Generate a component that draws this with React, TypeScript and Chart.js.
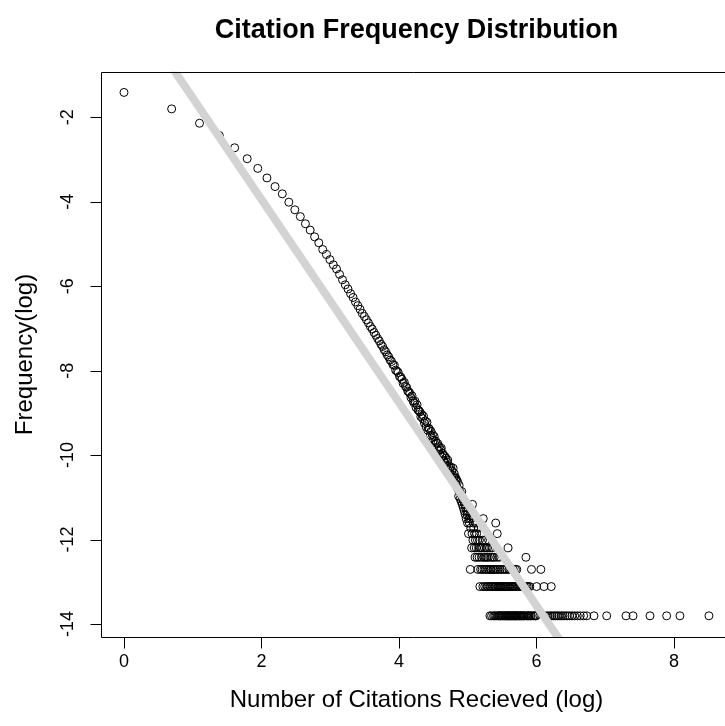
import { useEffect, useRef } from "react";
import { Chart, registerables } from "chart.js";

Chart.register(...registerables);

// Number of papers that received 1, 2, 3, ... 153 citations (index 0 = 1 citation).
const headPapers = [
  241700, 163700, 116500, 87200, 65200, 50300, 40000, 31900, 26000, 21900,
  17960, 15000, 12770, 10770, 9280, 7910, 6870, 5860, 5200, 4610,
  4080, 3700, 3250, 2860, 2540, 2300, 2060, 1880, 1690, 1550,
  1420, 1290, 1200, 1110, 1030, 945, 890, 820, 768, 712,
  672, 620, 590, 545, 519, 483, 461, 428, 413, 383,
  378, 336, 329, 318, 290, 286, 271, 246, 252, 229,
  224, 205, 201, 194, 176, 183, 162, 155, 161, 139,
  148, 131, 129, 125, 112, 118, 107, 113, 96, 101,
  88, 98, 81, 85, 83, 72, 79, 68, 73, 64,
  70, 58, 63, 60, 52, 59, 50, 55, 46, 51,
  53, 43, 47, 45, 39, 44, 37, 42, 35, 38,
  40, 31, 35, 33, 29, 34, 27, 31, 25, 33,
  26, 29, 27, 23, 26, 25, 21, 24, 20, 17,
  22, 19, 16, 18, 15, 19, 14, 16, 13, 15,
  12, 14, 11, 13, 10, 12, 11, 9, 12, 7,
  10, 9, 11,
];

// Sparse tail: citation counts at which exactly n papers were recorded.
const citedByOnePaper = [
  205, 210, 216, 220, 224, 230, 233, 236, 239, 241, 245, 248, 252, 255, 259,
  261, 265, 269, 272, 275, 278, 281, 284, 287, 290, 293, 296, 299, 302, 305,
  309, 314, 317, 321, 324, 328, 333, 336, 341, 349, 355, 358, 363, 370, 374,
  384, 391, 398, 401, 463, 478, 493, 505, 519, 531, 546, 560, 577, 592, 611,
  630, 652, 676, 703, 731, 762, 801, 838, 931, 1120, 1483, 1643, 2103, 2679,
  3250, 4955,
];
const citedByTwoPapers = [
  177, 185, 190, 195, 199, 203, 208, 212, 215, 219, 222, 225, 229, 232, 234,
  238, 240, 243, 247, 251, 254, 258, 264, 268, 273, 277, 282, 286, 291, 295,
  300, 306, 312, 318, 325, 331, 338, 345, 352, 360, 366, 404, 450, 500,
];
const citedByThreePapers = [
  154, 172, 179, 183, 188, 193, 197, 202, 206, 209, 214, 217, 221, 226, 231,
  237, 244, 249, 256, 262, 270, 279, 288, 297, 303, 375, 430,
];
const citedByFourPapers = [165, 170, 175, 181, 187, 191, 196, 200, 207, 213, 218, 227, 235, 346];
const citedByFivePapers = [157, 163, 168, 174, 178, 182, 189, 194, 198, 204, 211, 267];
const citedBySixPapers = [160, 166, 171, 176, 184, 192, 201];
const citedBySevenPapers = [158, 164, 169, 180, 228];
const citedByEightPapers = [155, 162, 173];
const citedByNinePapers = [161, 167, 223];
const citedByTenPapers = [156, 186];
const citedByFourteenPapers = [159];

// Axis ticks
const xTicks = [0, 2, 4, 6, 8];
const yTicks = [-2, -4, -6, -8, -10, -12, -14];

// Least-squares line in log-log space
const fitIntercept = 0.865;
const fitSlope = -2.405;

const X_MIN = -0.3345;
const X_MAX = 8.742;
const Y_MIN = -14.315;
const Y_MAX = -0.92;

const FONT = '"Liberation Sans", Arial, Helvetica, sans-serif';

function buildPoints() {
  const pairs: [number, number][] = headPapers.map((n, i) => [i + 1, n]);
  const groups: [number, number[]][] = [
    [1, citedByOnePaper],
    [2, citedByTwoPapers],
    [3, citedByThreePapers],
    [4, citedByFourPapers],
    [5, citedByFivePapers],
    [6, citedBySixPapers],
    [7, citedBySevenPapers],
    [8, citedByEightPapers],
    [9, citedByNinePapers],
    [10, citedByTenPapers],
    [14, citedByFourteenPapers],
  ];
  groups.forEach(([n, list]) => list.forEach((k) => pairs.push([k, n])));
  pairs.sort((a, b) => a[0] - b[0]);
  const total = pairs.reduce((s, [, n]) => s + n, 0);
  return pairs.map(([k, n]) => ({ x: Math.log(k), y: Math.log(n / total) }));
}

// Box, ticks, labels and titles in the style of base R graphics
const baseFrame = {
  id: "baseFrame",
  afterDatasetsDraw(chart: any) {
    const { ctx, chartArea: a, scales } = chart;
    const xs = scales.x;
    const ys = scales.y;
    const L = Math.round(a.left) + 0.5;
    const T = Math.round(a.top) + 0.5;
    const B = Math.round(a.bottom) + 0.5;
    const R = a.right + 2;
    ctx.save();
    ctx.strokeStyle = "#000";
    ctx.lineWidth = 1;
    ctx.beginPath();
    ctx.moveTo(R, T);
    ctx.lineTo(L, T);
    ctx.lineTo(L, B);
    ctx.lineTo(R, B);
    ctx.stroke();

    ctx.beginPath();
    xTicks.forEach((v) => {
      const px = Math.round(xs.getPixelForValue(v)) + 0.5;
      ctx.moveTo(px, B);
      ctx.lineTo(px, B + 11);
    });
    yTicks.forEach((v) => {
      const py = Math.round(ys.getPixelForValue(v)) + 0.5;
      ctx.moveTo(L, py);
      ctx.lineTo(L - 11, py);
    });
    ctx.stroke();

    ctx.fillStyle = "#000";
    ctx.textAlign = "center";
    ctx.textBaseline = "middle";
    ctx.font = `18px ${FONT}`;
    xTicks.forEach((v) => ctx.fillText(String(v), xs.getPixelForValue(v), B + 25));
    yTicks.forEach((v) => {
      ctx.save();
      ctx.translate(L - 33, ys.getPixelForValue(v));
      ctx.rotate(-Math.PI / 2);
      ctx.fillText(String(v), 0, 0);
      ctx.restore();
    });

    // Titles are centred over the full plotting region, which runs past the canvas edge
    const plotCentre = 416.5;
    ctx.font = `24px ${FONT}`;
    ctx.fillText("Number of Citations Recieved (log)", plotCentre, B + 63);
    ctx.save();
    ctx.translate(25, (a.top + a.bottom) / 2);
    ctx.rotate(-Math.PI / 2);
    ctx.fillText("Frequency(log)", 0, 0);
    ctx.restore();

    ctx.font = `bold 27px ${FONT}`;
    ctx.fillText("Citation Frequency Distribution", plotCentre, 31);
    ctx.restore();
  },
};

export default function App() {
  const ref = useRef<HTMLCanvasElement>(null);

  useEffect(() => {
    const points = buildPoints();
    const chart = new Chart(ref.current as HTMLCanvasElement, {
      type: "scatter",
      data: {
        datasets: [
          {
            type: "line",
            data: [
              { x: X_MIN, y: fitIntercept + fitSlope * X_MIN },
              { x: X_MAX, y: fitIntercept + fitSlope * X_MAX },
            ],
            borderColor: "#d3d3d3",
            borderWidth: 8,
            pointRadius: 0,
            fill: false,
            clip: 0,
            order: 0,
          } as any,
          {
            data: points,
            pointStyle: "circle",
            pointRadius: 4,
            borderWidth: 1,
            borderColor: "#000",
            backgroundColor: "rgba(0,0,0,0)",
            order: 1,
          },
        ],
      },
      options: {
        animation: false,
        responsive: false,
        events: [],
        layout: { autoPadding: false, padding: { left: 101, top: 71.7, right: 0, bottom: 88.7 } },
        scales: {
          x: { type: "linear", min: X_MIN, max: X_MAX, display: false },
          y: { type: "linear", min: Y_MIN, max: Y_MAX, display: false },
        },
        plugins: {
          legend: { display: false },
          tooltip: { enabled: false },
          title: { display: false },
        },
      },
      plugins: [baseFrame],
    });
    return () => chart.destroy();
  }, []);

  return (
    <div
      style={{
        position: "fixed",
        left: 0,
        top: 0,
        width: 725,
        height: 726,
        overflow: "hidden",
        background: "#fff",
      }}
    >
      <canvas ref={ref} width={725} height={726} style={{ display: "block", width: 725, height: 726 }} />
    </div>
  );
}
